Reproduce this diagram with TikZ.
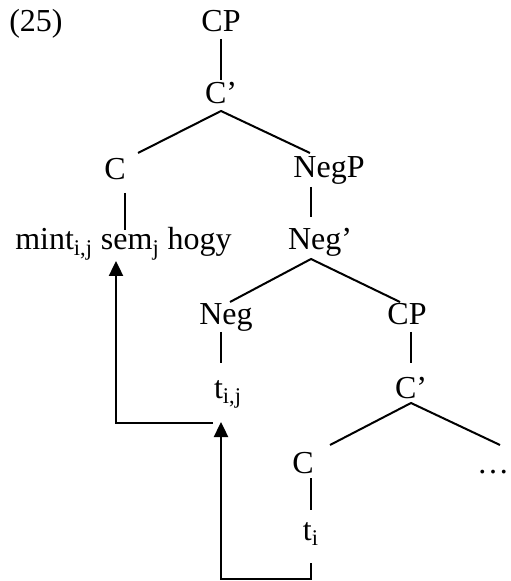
\documentclass[tikz,border=0pt]{standalone}
\usepackage{fontspec}
\setmainfont{Liberation Serif}
\usetikzlibrary{arrows.meta}

\begin{document}
\begin{tikzpicture}[x=0.5pt, y=-0.5pt,
  every node/.style={inner sep=0pt, anchor=base, font=\fontsize{16}{19}\selectfont},
  branch/.style={line width=1pt},
  move/.style={line width=1.2pt, -{Triangle[width=7pt,length=7.5pt]}}]

\useasboundingbox (0,0) rectangle (510,581);

%%%%%%%%%%%%%%%%%%%%%%%%%%%%%%%%%%%%%%%%%%%%%%%%%%%%%%%%%%%%%%%%
% Upper clause
%%%%%%%%%%%%%%%%%%%%%%%%%%%%%%%%%%%%%%%%%%%%%%%%%%%%%%%%%%%%%%%%

\node (ex) at (36,32) {(25)};

\node (cp) at (221,32) {CP};
\node (cbar) at (221,104) {C’};
\node (c) at (115,180) {C};
\node (negp) at (329,178) {NegP};
\node (mint) at (123.5,250) {mint\textsubscript{i,j} sem\textsubscript{j} hogy};
\node (negbar) at (320,250) {Neg’};
\node (neg) at (226,325) {Neg};
\node (tij) at (228,398) {t\textsubscript{i,j}};

%%%%%%%%%%%%%%%%%%%%%%%%%%%%%%%%%%%%%%%%%%%%%%%%%%%%%%%%%%%%%%%%
% Embedded CP
%%%%%%%%%%%%%%%%%%%%%%%%%%%%%%%%%%%%%%%%%%%%%%%%%%%%%%%%%%%%%%%%

\node (cpb) at (407,325) {CP};
\node (cbarb) at (411,398) {C’};
\node (cb) at (303,473) {C};
\node (rest) at (493,473) {…};
\node (ti) at (311,540) {t\textsubscript{i}};

%%%%%%%%%%%%%%%%%%%%%%%%%%%%%%%%%%%%%%%%%%%%%%%%%%%%%%%%%%%%%%%%
% Branches
%%%%%%%%%%%%%%%%%%%%%%%%%%%%%%%%%%%%%%%%%%%%%%%%%%%%%%%%%%%%%%%%

\draw[branch] ([shift={(0,7)}]cp.base) to ([shift={(0,-24)}]cbar.base);
\draw[branch] ([shift={(23,-27)}]c.base) to ([shift={(0,7)}]cbar.base)
   to ([shift={(-19,-25)}]negp.base);
\draw[branch] ([shift={(10,13)}]c.base) to ([shift={(1.5,-20)}]mint.base);
\draw[branch] ([shift={(-18,9)}]negp.base) to ([shift={(-9,-33)}]negbar.base);
\draw[branch] ([shift={(4,-23)}]neg.base) to ([shift={(-9,9)}]negbar.base)
   to ([shift={(-7,-23)}]cpb.base);
\draw[branch] ([shift={(-5,7)}]neg.base) to ([shift={(-7,-35)}]tij.base);

% lower CP
\draw[branch] ([shift={(4,7)}]cpb.base) to ([shift={(0,-35)}]cbarb.base);
\draw[branch] ([shift={(27,-28)}]cb.base) to ([shift={(0,5)}]cbarb.base)
   to ([shift={(7,-28)}]rest.base);
\draw[branch] ([shift={(8,5)}]cb.base) to ([shift={(0,-30)}]ti.base);

%%%%%%%%%%%%%%%%%%%%%%%%%%%%%%%%%%%%%%%%%%%%%%%%%%%%%%%%%%%%%%%%
% Movement
%%%%%%%%%%%%%%%%%%%%%%%%%%%%%%%%%%%%%%%%%%%%%%%%%%%%%%%%%%%%%%%%

\draw[move] ([shift={(0,23)}]ti.base) -- ++(0,16) -| ([shift={(-7,24)}]tij.base);
\draw[move] ([shift={(-15,25)}]tij.base) -| ([shift={(-7.5,11)}]mint.base);
\end{tikzpicture}
\end{document}
